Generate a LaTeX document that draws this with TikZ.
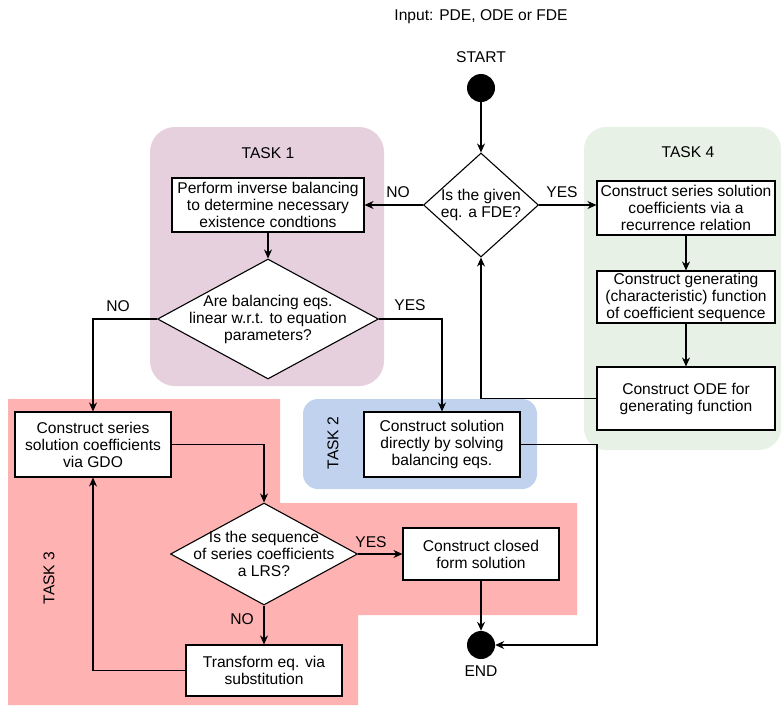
\documentclass[tikz,border=0pt]{standalone}
\usepackage{fontspec}
\setmainfont{Liberation Sans}
\usetikzlibrary{arrows.meta,shapes.geometric}
\definecolor{taskpurple}{HTML}{E6D0DE}
\definecolor{taskgreen}{HTML}{E7F1E6}
\definecolor{taskblue}{HTML}{C0D2EE}
\definecolor{taskred}{HTML}{FFB2B2}
\begin{document}
\begin{tikzpicture}[x=1pt,y=-1pt,
  every node/.style={font=\fontsize{15.6}{17}\selectfont},
  box/.style={draw, fill=white, line width=1.1pt, inner sep=0pt, align=center},
  dia/.style={diamond, draw, fill=white, line width=1.1pt, inner sep=0pt},
  conn/.style={line width=1.1pt, -{Stealth[length=9pt,width=8pt]}},
  lbl/.style={inner sep=0pt},
  dot/.style={circle, fill=black, minimum size=28pt, inner sep=0pt}
]
\useasboundingbox (0,0) rectangle (781,705);

% task backgrounds
\fill[taskpurple, rounded corners=25pt] (150,127) rectangle (384,386);
\fill[taskgreen, rounded corners=22pt] (584,127) rectangle (781,450);
\fill[taskred] (8,399) -- (280,399) -- (280,503) -- (577,503) -- (577,615)
  -- (358,615) -- (358,705) -- (8,705) -- cycle;
\fill[taskblue, rounded corners=15pt] (303,399) rectangle (537,489);

% task titles
\node[lbl] (t1) at (268,153) {TASK 1};
\node[lbl] (t4) at (688,152) {TASK 4};
\node[lbl, rotate=90] (t2) at (333,443) {TASK 2};
\node[lbl, rotate=90] (t3) at (49,578) {TASK 3};

% top texts and dots
\node[lbl] (input) at (481,17) {Input: PDE, ODE or FDE};
\node[lbl] (starttxt) at (481,57) {START};
\node[dot] (start) at (481,88) {};
\node[dot] (enddot) at (481,645) {};
\node[lbl] (endtxt) at (481,671) {END};

% decisions
\node[dia, minimum width=115pt, minimum height=104pt,
  label={[align=center]center:Is the given\\eq. a FDE?}] (d1) at (481,205) {};
\node[dia, minimum width=221pt, minimum height=120pt,
  label={[align=center]center:Are balancing eqs.\\linear w.r.t. to equation\\parameters?}] (d2) at (268,319) {};
\node[dia, minimum width=187pt, minimum height=102pt,
  label={[align=center]center:Is the sequence\\of series coefficients\\a LRS?}] (d3) at (264,554) {};

% process boxes
\node[box, minimum width=192pt, minimum height=54pt] (box1) at (268,205)
  {Perform inverse balancing\\to determine necessary\\existence condtions};
\node[box, minimum width=178pt, minimum height=54pt] (box7) at (686,208)
  {Construct series solution\\coefficients via a\\recurrence relation};
\node[box, minimum width=178pt, minimum height=52pt] (box8) at (686,297)
  {Construct generating\\(characteristic) function\\of coefficient sequence};
\node[box, minimum width=178pt, minimum height=63pt] (box9) at (686,398.5)
  {Construct ODE for\\generating function};
\node[box, minimum width=156pt, minimum height=65pt] (box3) at (93,444.5)
  {Construct series\\solution coefficients\\via GDO};
\node[box, minimum width=156pt, minimum height=65pt] (box4) at (442,444.5)
  {Construct solution\\directly by solving\\balancing eqs.};
\node[box, minimum width=156pt, minimum height=52pt] (box5) at (481,554)
  {Construct closed\\form solution};
\node[box, minimum width=156pt, minimum height=51pt] (box6) at (264,670.5)
  {Transform eq. via\\substitution};

\coordinate (turn) at (597,645);

% connectors
\draw[conn] (start) -- (d1.north);
\draw[conn] (d1.west) -- (box1.east);
\draw[conn] (d1.east) -- (d1.east -| box7.west);
\draw[conn] (box1.south) -- (d2.north);
\draw[conn] (d2.west) -| (box3.north);
\draw[conn] (d2.east) -| (box4.north);
\draw[conn] (box7.south) -- (box8.north);
\draw[conn] (box8.south) -- (box9.north);
\draw[conn] (box9.west) -| (d1.south);
\draw[conn] (box3.east) -| (d3.north);
\draw[conn] (d3.east) -- (box5.west);
\draw[conn] (d3.south) -- (box6.north);
\draw[conn] (box6.west) -| (box3.south);
\draw[conn] (box5.south) -- (enddot.north);
\draw[conn] (box4.east) -| (turn) -- (enddot.east);

% connector labels
\node[lbl] (no1) at (398,192) {NO};
\node[lbl] (yes1) at (562,192) {YES};
\node[lbl] (no2) at (118,306) {NO};
\node[lbl] (yes2) at (410,305) {YES};
\node[lbl] (yes3) at (371,542) {YES};
\node[lbl] (no3) at (242,619) {NO};
\end{tikzpicture}
\end{document}
